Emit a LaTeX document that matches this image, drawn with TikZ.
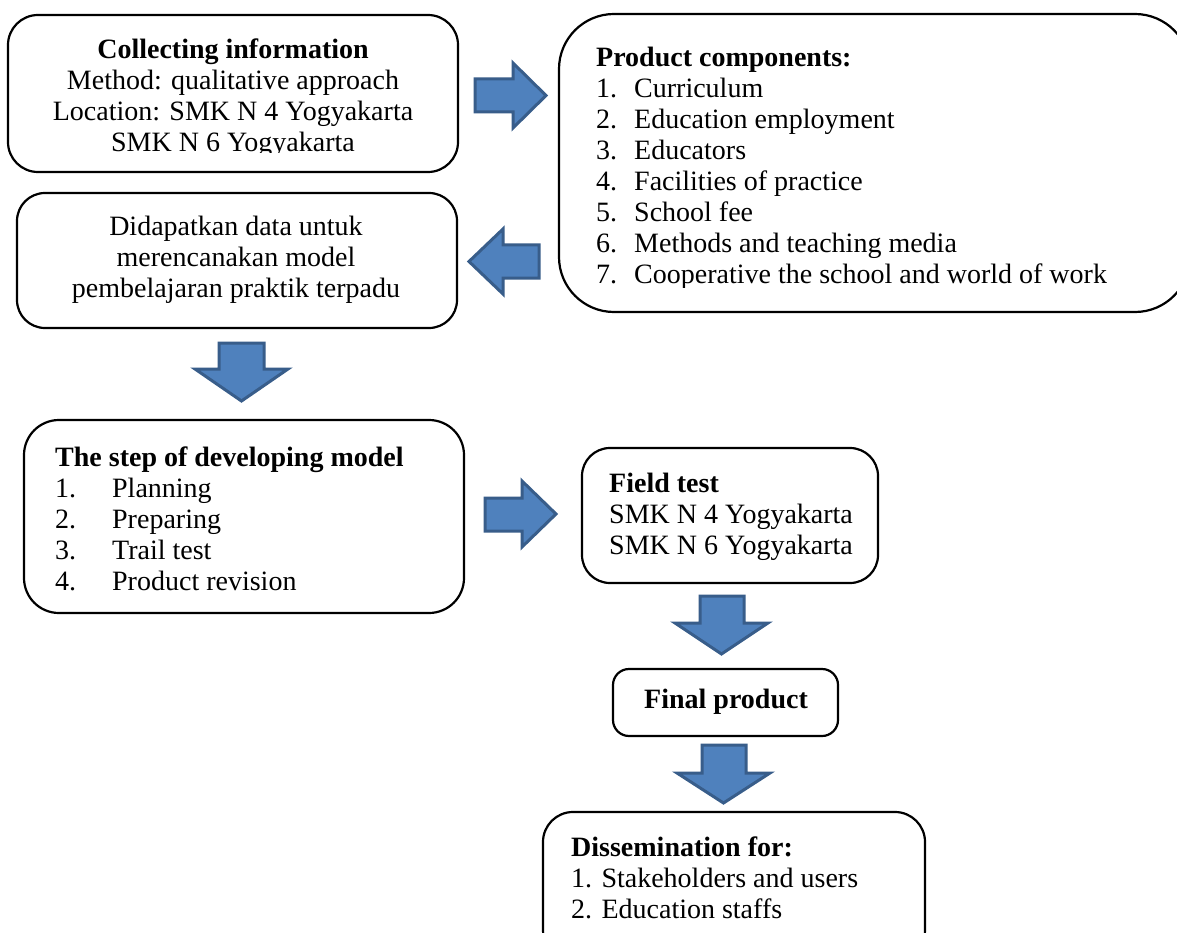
\documentclass[tikz,border=0pt]{standalone}
\usepackage{fontspec}
\setmainfont{Liberation Serif}
\definecolor{arrowfill}{HTML}{4F81BD}
\definecolor{arrowline}{HTML}{385D8A}
\begin{document}
\begin{tikzpicture}[x=1pt,y=-1pt,
  box/.style={draw=black, line width=2.2pt, fill=white},
  blockarrow/.style={fill=arrowfill, draw=arrowline, line width=3pt, line join=miter},
  txt/.style={inner sep=0pt, font=\fontsize{28}{31}\selectfont, align=left},
  ctxt/.style={inner sep=0pt, font=\fontsize{28}{31}\selectfont, align=center}]
\clip (0,0) rectangle (1177,933);
\fill[white] (0,0) rectangle (1177,933);
% boxes
\draw[box, rounded corners=30pt] (8,15) rectangle (458,172);
\draw[box, rounded corners=55pt] (559,14) rectangle (1190,312);
\draw[box, rounded corners=28pt] (17,193) rectangle (457,328);
\draw[box, rounded corners=35pt] (24,420) rectangle (464,613);
\draw[box, rounded corners=28pt] (582,448) rectangle (878,583);
\draw[box, rounded corners=16pt] (613,669) rectangle (838,736);
\draw[box, rounded corners=30pt] (543,812) rectangle (925,960);
% block arrows
\draw[blockarrow] (475,79) -- (513,79) -- (513,63) -- (546,95.5) -- (513,128) -- (513,112) -- (475,112) -- cycle;
\draw[blockarrow] (539,245) -- (503,245) -- (503,229) -- (469,261.5) -- (503,294) -- (503,278) -- (539,278) -- cycle;
\draw[blockarrow] (219,343) -- (219,369) -- (195,369) -- (241.5,401) -- (288,369) -- (264,369) -- (264,343) -- cycle;
\draw[blockarrow] (485,498) -- (522,498) -- (522,481) -- (556,514) -- (522,547) -- (522,531) -- (485,531) -- cycle;
\draw[blockarrow] (700,596) -- (700,623) -- (675,623) -- (721.5,654) -- (768,623) -- (744,623) -- (744,596) -- cycle;
\draw[blockarrow] (702,745) -- (702,773) -- (677,773) -- (723.5,803) -- (770,773) -- (746,773) -- (746,745) -- cycle;
% texts
\begin{scope}
\clip (8,15) rectangle (458,153);
\node[ctxt, anchor=north] (t1) at (233,36.3) {\strut\textbf{Collecting information}\\Method: qualitative approach\\Location: SMK N 4 Yogyakarta\\SMK N 6 Yogyakarta};
\end{scope}
\begin{scope}
\clip (559,14) rectangle (1177,287);
\node[txt, anchor=north west] (t2) at (596,44.3) {\strut\textbf{Product components:}\\
\makebox[38pt][l]{1.}Curriculum\\
\makebox[38pt][l]{2.}Education employment\\
\makebox[38pt][l]{3.}Educators\\
\makebox[38pt][l]{4.}Facilities of practice\\
\makebox[38pt][l]{5.}School fee\\
\makebox[38pt][l]{6.}Methods and teaching media\\
\makebox[38pt][l]{7.}Cooperative the school and world of work};
\end{scope}
\node[ctxt, anchor=north] (t3) at (236,213.3) {\strut Didapatkan data untuk\\merencanakan model\\pembelajaran praktik terpadu};
\node[txt, anchor=north west] (t4) at (55,444.3) {\strut\textbf{The step of developing model}\\
\makebox[57pt][l]{1.}Planning\\
\makebox[57pt][l]{2.}Preparing\\
\makebox[57pt][l]{3.}Trail test\\
\makebox[57pt][l]{4.}Product revision};
\node[txt, anchor=north west] (t5) at (609,470.3) {\strut\textbf{Field test}\\SMK N 4 Yogyakarta\\SMK N 6 Yogyakarta};
\node[txt, anchor=base] (t6) at (726,708) {\textbf{Final product}};
\node[txt, anchor=north west] (t7) at (571,834.3) {\strut\textbf{Dissemination for:}\\1. Stakeholders and users\\2. Education staffs};
\end{tikzpicture}
\end{document}
